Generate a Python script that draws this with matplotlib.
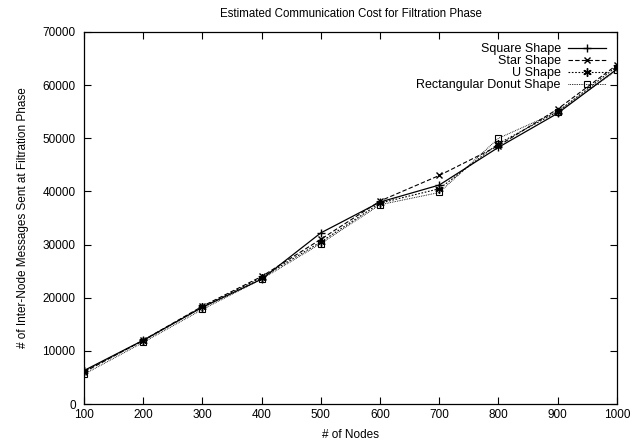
import matplotlib
matplotlib.use("Agg")
import matplotlib.pyplot as plt

plt.rcParams["font.family"] = ["Liberation Sans", "DejaVu Sans"]
plt.rcParams["font.size"] = 8.5

nodes = [100, 200, 300, 400, 500, 600, 700, 800, 900, 1000]

square = [6300, 12000, 18200, 23500, 32200, 38000, 41200, 48300, 54700, 63000]
star = [6000, 12000, 18400, 24000, 31000, 38200, 43000, 48600, 55500, 63800]
u_shape = [6200, 11900, 18300, 23800, 30500, 37800, 40500, 49000, 55000, 63500]
donut = [5600, 11600, 17800, 23500, 30200, 37500, 39800, 50000, 55000, 62800]

fig = plt.figure(figsize=(6.34, 4.44), dpi=100)
ax = fig.add_axes([0.1325, 0.09, 0.8405, 0.838])

ax.plot(nodes, square, color="black", linestyle="-", linewidth=0.9,
        marker="+", markersize=6, label="Square Shape")
ax.plot(nodes, star, color="black", linestyle=(0, (4, 2)), linewidth=0.8,
        marker="x", markersize=5, label="Star Shape")
ax.plot(nodes, u_shape, color="black", linestyle=(0, (1.5, 1.5)), linewidth=0.8,
        marker=(6, 2, 0), markersize=6, label="U Shape")
ax.plot(nodes, donut, color="black", linestyle=(0, (0.8, 1)), linewidth=0.7,
        marker="s", markersize=5, markerfacecolor="none", markeredgewidth=0.8,
        label="Rectangular Donut Shape")

ax.set_xlim(100, 1000)
ax.set_ylim(0, 70000)
ax.set_xticks(nodes)
ax.set_yticks(range(0, 70001, 10000))
ax.tick_params(direction="in", top=True, right=True, length=5, width=0.8)
ax.tick_params(axis="y", pad=6)
for s in ax.spines.values():
    s.set_linewidth(0.9)

ax.set_xlabel("# of Nodes", labelpad=6)
ax.set_ylabel("# of Inter-Node Messages Sent at Filtration Phase", labelpad=10)
ax.set_title("Estimated Communication Cost for Filtration Phase", pad=11, fontsize=8.3)

ax.legend(loc="upper right", frameon=False, markerfirst=False, fontsize=9,
          handlelength=3, labelspacing=0.0, borderaxespad=0.5,
          handletextpad=0.6)

fig.savefig("out.png", dpi=100)
